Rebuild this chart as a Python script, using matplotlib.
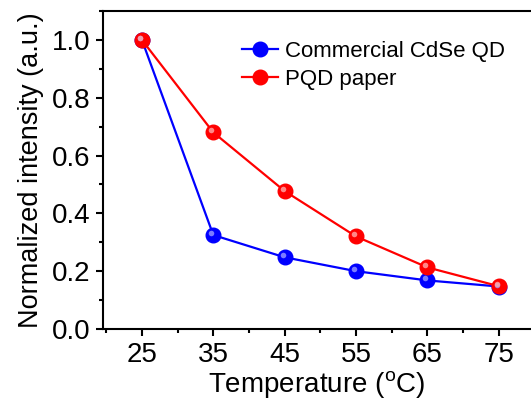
import matplotlib
matplotlib.use("Agg")
import matplotlib.pyplot as plt
import matplotlib.transforms as mtransforms
from matplotlib.ticker import MultipleLocator

plt.rcParams['font.family'] = ['Liberation Sans', 'DejaVu Sans']

temps = [25, 35, 45, 55, 65, 75]
commercial = [1.0, 0.325, 0.248, 0.2, 0.168, 0.147]
pqd_paper = [1.0, 0.68, 0.477, 0.32, 0.213, 0.148]

fig = plt.figure(figsize=(5.31, 4.05), dpi=100)
ax = fig.add_axes([103 / 531, 76 / 405, 428 / 531, 318 / 405])

def sphere_line(x, y, color, light, label):
    ax.plot(x, y, '-', color=color, lw=1.6, marker='o', ms=10.5,
            mfc=color, mec=color, label=label, zorder=3)
    # little highlight to fake the shaded ball
    off = mtransforms.ScaledTranslation(-2 / 100, 2 / 100, fig.dpi_scale_trans)
    ax.plot(x, y, 'o', ms=4, color=light, mec='none', alpha=0.8,
            transform=ax.transData + off, zorder=4)

sphere_line(temps, commercial, '#0000ff', '#9b9bff', 'Commercial CdSe QD')
sphere_line(temps, pqd_paper, '#ff0000', '#ffaaaa', 'PQD paper')

ax.set_xlim(19.55, 79.5)
ax.set_ylim(0, 1.1)
ax.set_xticks(temps)
ax.xaxis.set_minor_locator(MultipleLocator(5))
ax.yaxis.set_minor_locator(MultipleLocator(0.1))
ax.set_yticks([0, 0.2, 0.4, 0.6, 0.8, 1.0])
ax.set_yticklabels(['0.0', '0.2', '0.4', '0.6', '0.8', '1.0'])

for s in ['left', 'bottom', 'top']:
    ax.spines[s].set_linewidth(1.5)
ax.spines['right'].set_visible(False)
ax.tick_params(which='major', direction='out', length=5, width=1.5,
               labelsize=20, pad=4, top=False, right=False)
ax.tick_params(which='minor', direction='out', length=3, width=1.5,
               top=False, right=False)

ax.set_xlabel('Temperature ($^\\mathregular{o}$C)', fontsize=20, labelpad=1)
ax.set_ylabel('Normalized intensity (a.u.)', fontsize=19.5, labelpad=6)

leg = ax.legend(loc='upper left', bbox_to_anchor=(242 / 531, 1 - 41 / 405),
                bbox_transform=fig.transFigure, frameon=False, fontsize=16,
                handlelength=1.6, handletextpad=0.35, labelspacing=0.3,
                borderaxespad=0, borderpad=0)

fig.savefig('out.png', dpi=100)
